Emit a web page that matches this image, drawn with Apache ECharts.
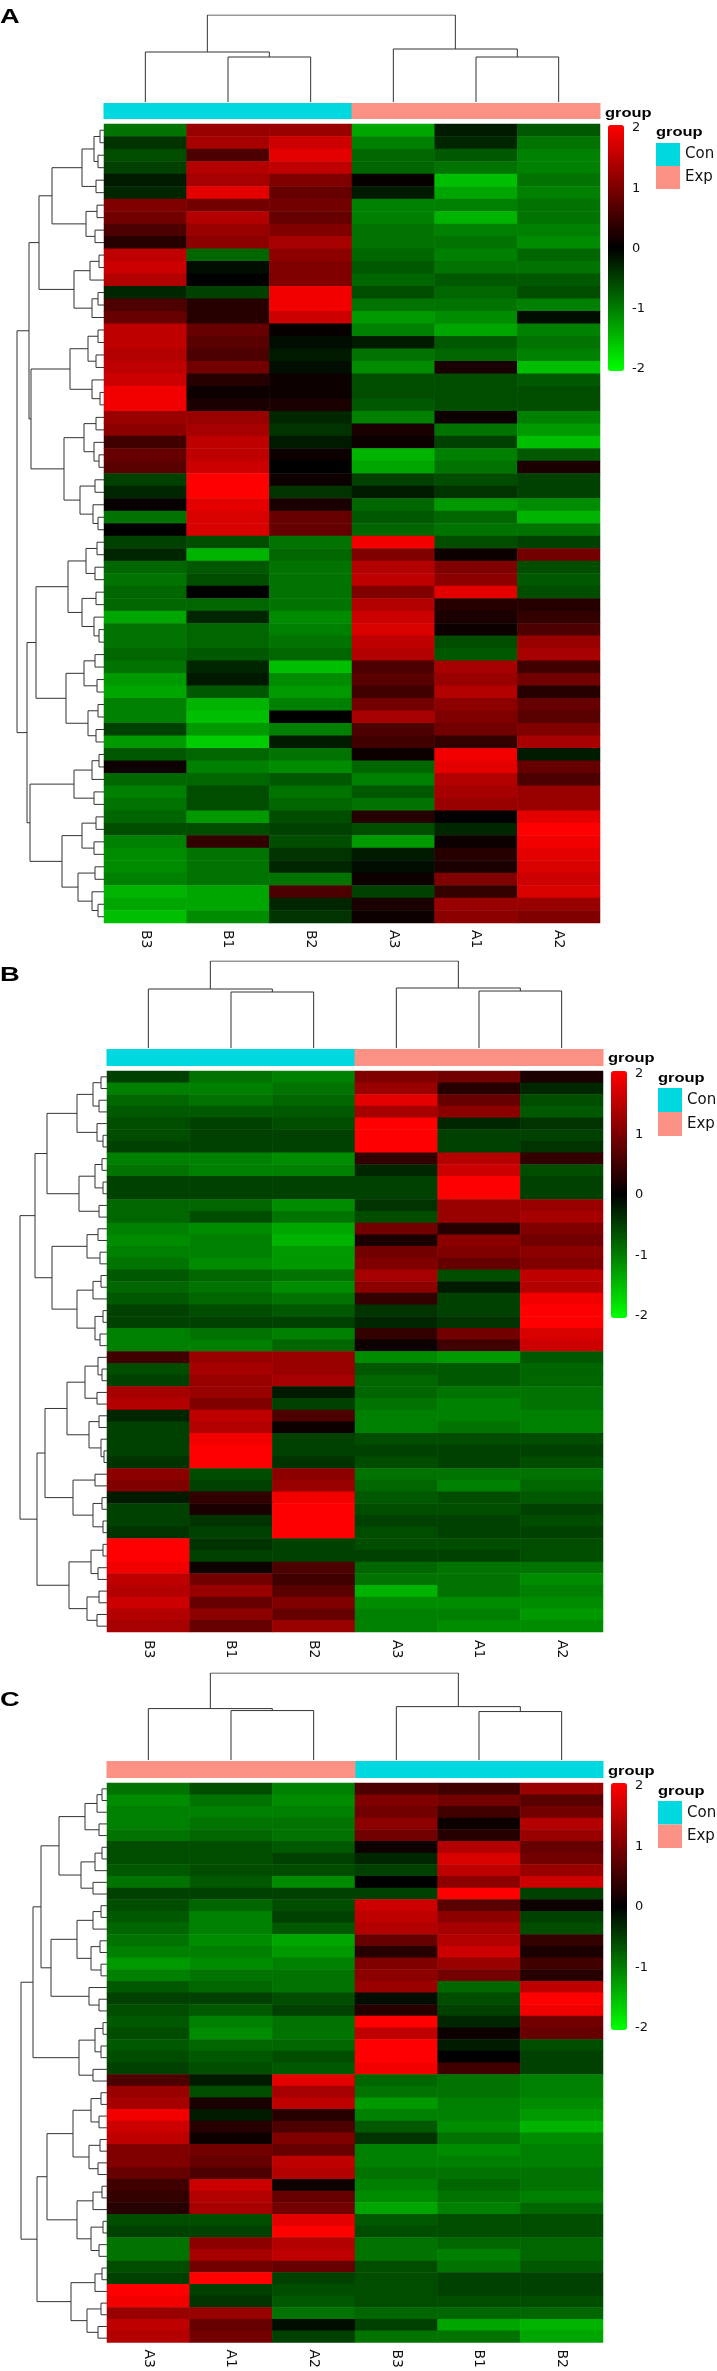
<!DOCTYPE html>
<html><head><meta charset="utf-8">
<script src="https://cdn.jsdelivr.net/npm/echarts@6/dist/echarts.min.js"></script>
<style>html,body{margin:0;padding:0;background:#fff}#c{width:717px;height:2371px}</style>
</head><body><div id="c"></div>
<script>
// ---------------- DATA ----------------
const colsA = ['B3','B1','B2','A3','A1','A2'];
const groupA = ['Con','Con','Con','Exp','Exp','Exp'];
const valuesA = [
[-0.9, 1.2, 1.2, -1.3, -0.2, -0.7],
[-0.4, 1.3, 1.6, -1.0, -0.3, -0.9],
[-0.6, 0.6, 1.8, -0.8, -0.7, -1.0],
[-0.5, 1.4, 1.5, -0.8, -0.9, -1.0],
[-0.2, 1.3, 1.0, 0.05, -1.5, -0.9],
[-0.3, 1.8, 0.8, -0.2, -1.3, -1.0],
[1.0, 0.9, 0.9, -1.0, -1.0, -0.9],
[0.9, 1.4, 0.8, -1.0, -1.4, -0.9],
[0.6, 1.2, 1.0, -0.9, -1.0, -1.0],
[0.3, 1.1, 1.3, -0.9, -0.9, -1.1],
[1.5, -0.8, 1.1, -0.8, -1.0, -0.8],
[1.6, -0.1, 1.0, -0.7, -0.9, -0.9],
[1.4, 0.0, 1.0, -0.8, -0.7, -0.7],
[-0.3, -0.5, 1.9, -0.6, -0.8, -0.6],
[0.6, 0.3, 1.9, -0.9, -0.9, -1.0],
[0.8, 0.3, 1.6, -1.2, -1.1, -0.1],
[1.5, 0.8, 0.05, -1.0, -1.3, -1.0],
[1.5, 0.7, -0.1, -0.2, -0.7, -0.9],
[1.4, 0.6, -0.2, -0.9, -0.8, -1.0],
[1.5, 0.9, -0.1, -1.1, 0.2, -1.5],
[1.6, 0.3, 0.1, -0.6, -0.6, -0.7],
[1.9, 0.1, 0.1, -0.6, -0.6, -0.6],
[1.9, 0.2, 0.2, -0.7, -0.6, -0.6],
[1.2, 1.2, -0.3, -1.0, 0.1, -1.0],
[1.1, 1.3, -0.4, 0.2, -0.9, -1.2],
[0.5, 1.5, -0.2, 0.1, -0.5, -1.5],
[0.8, 1.5, 0.1, -1.4, -1.0, -0.7],
[0.7, 1.6, 0.0, -1.3, -0.9, 0.2],
[-0.5, 2.0, 0.1, -0.5, -0.6, -0.5],
[-0.3, 2.0, -0.4, -0.2, -0.4, -0.5],
[0.05, 1.8, 0.2, -0.8, -1.2, -1.1],
[-0.9, 1.7, 0.8, -0.7, -0.8, -1.4],
[0.0, 1.7, 0.8, -0.8, -0.9, -0.9],
[-0.5, -0.6, -0.9, 1.9, -0.6, -0.5],
[-0.3, -1.4, -0.8, 1.0, 0.1, 0.9],
[-0.8, -0.7, -0.9, 1.4, 1.0, -0.6],
[-0.9, -0.6, -0.9, 1.5, 1.1, -0.7],
[-0.8, 0.0, -0.9, 1.0, 1.8, -0.6],
[-0.8, -0.8, -0.9, 1.4, 0.3, 0.3],
[-1.3, -0.3, -1.1, 1.6, 0.2, 0.4],
[-0.9, -0.8, -1.0, 1.7, 0.1, 0.6],
[-0.9, -0.8, -0.9, 1.5, -0.6, 1.2],
[-0.8, -0.7, -0.8, 1.4, -0.7, 1.3],
[-0.9, -0.3, -1.5, 0.6, 1.3, 0.5],
[-1.2, -0.2, -1.1, 0.7, 1.2, 0.9],
[-1.3, -0.7, -1.2, 0.5, 1.4, 0.3],
[-1.0, -1.4, -1.0, 0.9, 1.1, 0.8],
[-1.0, -1.5, 0.0, 1.3, 1.0, 0.7],
[-0.5, -1.2, -1.0, 0.6, 0.9, 1.0],
[-1.2, -1.6, -0.2, 0.5, 0.4, 1.3],
[-0.7, -0.8, -0.9, 0.1, 1.9, -0.2],
[0.1, -1.0, -1.1, -0.8, 1.8, 0.8],
[-0.8, -0.8, -0.7, -1.0, 1.4, 0.6],
[-1.0, -0.6, -0.9, -0.7, 1.3, 1.2],
[-0.9, -0.6, -0.8, -0.9, 1.2, 1.2],
[-0.8, -1.2, -0.6, 0.3, 0.0, 1.8],
[-0.6, -0.6, -0.5, -0.6, -0.3, 2.0],
[-1.0, 0.4, -0.6, -1.2, 0.1, 1.9],
[-1.1, -0.9, -0.4, -0.2, 0.3, 1.8],
[-1.1, -0.9, -0.3, -0.1, 0.2, 1.7],
[-1.0, -0.9, -0.9, 0.1, 1.0, 1.6],
[-1.4, -1.3, 0.6, -0.5, 0.4, 1.7],
[-1.3, -1.3, -0.3, 0.2, 1.2, 1.2],
[-1.5, -1.1, -0.4, 0.1, 1.1, 1.0]
];
// dendrograms: [height, left, right]; numbers are leaf indices
const colTreeA = [87, [50, 0, [45, 1, 2]], [53, 3, [45, 4, 5]]];
const rowTreeA =
[87,
 [75,
  [65,
   [52, [22,[10,[4,0,1],[6,2,3]],[8,4,5]], [18,[7,6,7],[9,8,9]]],
   [30, [14,[5,10,11],12], [12,[6,13,14],15]]
  ],
  [73,
   [34, [16,[6,16,17],[8,18,19]], [12,20,[4,21,22]]],
   [40, [20,[8,23,24],[10,25,[5,26,27]]], [24,[9,28,29],[11,30,[6,31,32]]]]
  ]
 ],
 [77,
  [68,
   [36, [18,[7,33,34],[9,35,36]], [22,[8,37,38],[10,39,[5,40,41]]]],
   [38, [20,[9,42,43],[7,44,45]], [16,[6,46,47],[8,48,49]]]
  ],
  [74,
   [30, [12,[5,50,51],52], [10,53,54]],
   [42, [22,[8,55,56],[10,57,58]], [26,[9,59,60],[12,61,[6,62,63]]]]
  ]
 ]
];

const colsB = ['B3','B1','B2','A3','A1','A2'];
const groupB = ['Con','Con','Con','Exp','Exp','Exp'];
const valuesB = [
[-0.5, -0.9, -1.0, 1.0, 0.9, 0.2],
[-1.0, -1.0, -0.9, 1.2, 0.3, -0.3],
[-0.8, -0.9, -0.8, 1.8, 0.8, -0.6],
[-0.7, -0.7, -0.7, 1.3, 1.1, -0.7],
[-0.6, -0.5, -0.6, 2.0, -0.3, -0.4],
[-0.6, -0.5, -0.5, 2.0, -0.5, -0.5],
[-0.5, -0.5, -0.5, 2.0, -0.5, -0.4],
[-1.0, -1.0, -1.1, 0.4, 1.4, 0.4],
[-0.9, -1.0, -1.0, -0.3, 1.6, -0.6],
[-0.5, -0.5, -0.5, -0.5, 2.0, -0.5],
[-0.5, -0.5, -0.5, -0.5, 2.0, -0.5],
[-0.8, -0.8, -1.1, -0.4, 1.2, 1.2],
[-0.8, -0.6, -0.9, -0.6, 1.2, 1.3],
[-1.0, -1.1, -1.3, 0.9, 0.3, 1.0],
[-1.1, -1.0, -1.4, 0.2, 1.1, 0.9],
[-1.0, -1.0, -1.2, 0.9, 1.0, 1.1],
[-0.9, -1.1, -1.2, 1.0, 0.8, 1.0],
[-0.7, -0.8, -0.9, 1.3, -0.6, 1.5],
[-0.8, -0.9, -1.1, 1.1, -0.2, 1.4],
[-0.7, -0.8, -0.9, 0.4, -0.5, 1.9],
[-0.5, -0.6, -0.7, -0.4, -0.5, 2.0],
[-0.5, -0.5, -0.5, -0.3, -0.4, 2.0],
[-1.0, -0.9, -1.0, 0.4, 0.9, 1.7],
[-1.0, -1.0, -0.8, 0.1, 0.5, 1.6],
[0.5, 1.2, 1.2, -1.1, -1.2, -0.7],
[-0.6, 1.3, 1.2, -0.7, -0.7, -0.8],
[-0.5, 1.2, 1.3, -0.8, -0.7, -0.8],
[1.3, 1.2, -0.2, -0.8, -0.9, -0.9],
[1.4, 1.0, -0.5, -0.9, -1.0, -0.9],
[-0.3, 1.5, 0.6, -1.0, -1.0, -1.0],
[-0.5, 1.4, 0.1, -1.0, -0.9, -1.0],
[-0.5, 1.9, -0.5, -0.6, -0.6, -0.6],
[-0.5, 2.0, -0.5, -0.5, -0.5, -0.5],
[-0.4, 2.0, -0.4, -0.6, -0.5, -0.6],
[1.1, -0.6, 1.1, -0.9, -0.9, -0.9],
[1.0, -0.5, 1.2, -0.8, -1.0, -0.8],
[-0.2, 0.4, 1.9, -0.7, -0.6, -0.7],
[-0.5, 0.2, 2.0, -0.6, -0.6, -0.5],
[-0.5, -0.4, 2.0, -0.5, -0.5, -0.6],
[-0.4, -0.5, 2.0, -0.6, -0.5, -0.5],
[2.0, -0.4, -0.5, -0.6, -0.6, -0.6],
[2.0, -0.5, -0.5, -0.5, -0.5, -0.6],
[1.9, 0.1, 0.6, -0.8, -0.9, -0.9],
[1.5, 0.9, 0.5, -0.9, -0.9, -1.1],
[1.4, 1.2, 0.7, -1.4, -0.9, -1.0],
[1.6, 0.8, 1.0, -1.1, -1.1, -1.1],
[1.4, 1.1, 0.8, -1.0, -1.0, -1.2],
[1.3, 0.8, 1.2, -1.0, -1.1, -1.1]
];
const colTreeB = [87, [59, 0, [56, 1, 2]], [60, 3, [57, 4, 5]]];
const rowTreeB =
[87,
 [72,
  [60,
   [30, [14,[6,0,1],[8,2,3]], [10,4,[4,5,6]]],
   [28, [12,[5,7,8],[4,9,10]], [8,11,12]]
  ],
  [55,
   [20, [9,13,14], [7,15,16]],
   [30, [14,[6,17,18],19], [12,[4,20,21],[7,22,23]]]
  ]
 ],
 [70,
  [62,
   [40, [22,[9,24,[5,25,26]],[10,27,28]], [18,[8,29,30],[6,31,[3,32,33]]]],
   [34, [12,34,35], [14,[5,36,37],[4,38,39]]]
  ],
  [38, [16,[4,40,41],[9,42,43]], [20,[8,44,45],[10,46,47]]]
 ]
];

const colsC = ['A3','A1','A2','B3','B1','B2'];
const groupC = ['Exp','Exp','Exp','Con','Con','Con'];
const valuesC = [
[-0.9, -0.6, -1.0, 0.6, 0.5, 1.2],
[-1.1, -0.9, -1.1, 1.0, 0.9, 0.7],
[-1.0, -1.0, -1.0, 0.9, 0.5, 0.9],
[-1.0, -0.9, -0.9, 1.1, 0.1, 1.4],
[-0.9, -0.8, -0.9, 0.9, 0.3, 1.2],
[-0.6, -0.6, -0.7, 0.1, 1.4, 0.8],
[-0.6, -0.6, -0.5, -0.3, 1.7, 0.9],
[-0.7, -0.6, -0.6, -0.5, 1.5, 1.2],
[-0.9, -0.7, -1.1, 0.0, 1.1, 1.6],
[-0.5, -0.5, -0.5, -0.5, 2.0, -0.5],
[-0.6, -0.8, -0.6, 1.6, 0.7, 0.1],
[-0.7, -1.0, -0.5, 1.5, 1.1, -0.5],
[-0.8, -1.0, -0.7, 1.4, 1.3, -0.6],
[-0.9, -1.1, -1.3, 0.8, 1.4, 0.4],
[-1.0, -1.0, -1.2, 0.3, 1.6, 0.2],
[-1.2, -1.1, -1.0, 1.0, 1.2, 0.5],
[-1.0, -0.9, -0.9, 1.1, 0.9, 0.3],
[-0.7, -0.8, -0.9, 1.2, -0.8, 1.5],
[-0.5, -0.5, -0.6, -0.1, -0.6, 2.0],
[-0.6, -0.7, -0.5, 0.3, -0.5, 1.9],
[-0.7, -1.0, -0.9, 2.0, -0.3, 0.9],
[-0.6, -1.1, -0.9, 1.5, 0.1, 0.8],
[-0.7, -0.8, -0.8, 2.0, -0.2, -0.6],
[-0.6, -0.7, -0.6, 2.0, 0.0, -0.5],
[-0.5, -0.6, -0.7, 1.9, 0.5, -0.5],
[0.6, -0.2, 1.8, -0.8, -0.9, -1.0],
[1.2, -0.6, 1.3, -0.9, -0.9, -1.0],
[1.3, 0.2, 1.5, -1.2, -1.0, -1.1],
[1.9, -0.2, 0.3, -1.0, -1.0, -1.2],
[1.6, 0.3, 0.6, -0.7, -1.1, -1.4],
[1.5, 0.1, 1.0, -0.4, -0.9, -1.1],
[1.0, 0.9, 0.8, -1.0, -1.1, -1.0],
[1.0, 0.8, 1.5, -1.0, -1.0, -1.0],
[0.8, 0.6, 1.4, -0.9, -0.9, -0.9],
[0.5, 1.6, 0.1, -1.0, -0.8, -0.9],
[0.4, 1.4, 0.8, -1.1, -0.9, -1.0],
[0.3, 1.3, 0.9, -1.3, -1.0, -0.8],
[-0.6, -0.6, 1.8, -0.7, -0.6, -0.6],
[-0.5, -0.5, 2.0, -0.6, -0.6, -0.6],
[-0.9, 1.1, 1.4, -0.9, -0.8, -0.8],
[-0.9, 1.3, 1.5, -0.9, -1.0, -0.8],
[-0.6, 0.9, 0.8, -0.6, -0.9, -0.7],
[-0.5, 2.0, -0.5, -0.6, -0.5, -0.5],
[2.0, -0.5, -0.6, -0.6, -0.5, -0.5],
[1.9, -0.4, -0.7, -0.6, -0.6, -0.6],
[1.2, 1.2, -0.9, -0.8, -0.8, -0.8],
[1.5, 0.8, -0.1, -0.5, -1.3, -1.4],
[1.4, 0.9, -0.5, -0.9, -0.9, -1.3]
];
const colTreeC = [88, [52, 0, [50, 1, 2]], [54, 3, [49, 4, 5]]];
const rowTreeC =
[86,
 [74,
  [66,
   [48, [22,[10,[5,0,1],2],[8,3,4]], [26,[12,[5,5,6],7],[14,8,9]]],
   [56, [30,[14,[6,10,11],12],[16,[7,13,14],[6,15,16]]], [18,17,[8,18,19]]]
  ],
  [28, [12,[4,20,21],[6,22,23]], [14,24,25]]
 ],
 [70,
  [60,
   [34, [16,[6,26,27],[8,28,29]], [18,[7,30,31],[9,32,33]]],
   [30, [14,[5,34,35],36], [16,[4,37,38],[8,39,40]]]
  ],
  [36, [12,[5,41,42],43], [20,[6,44,45],[9,46,47]]]
 ]
];

const panelLetters = ['A','B','C'];
const groupTitle = 'group';
const groupNames = ['Con','Exp'];

// ---------------- LAYOUT / STYLE ----------------
const FONT = 'DejaVu Sans';
const SANS = 'Liberation Sans';
const COLORS = {Con:'#00D8E0', Exp:'#FC9185'};
const DEND = '#333333';
const panels = [
 {letter:panelLetters[0], cols:colsA, groups:groupA, values:valuesA, colTree:colTreeA, rowTree:rowTreeA,
  letterY:17.5, heatLeft:104, heatRight:600, heatTop:124, heatBottom:923, dendTop:15, barTop:103, barBottom:119,
  rowRootX:17, cbLeft:608, cbTop:125, cbH:246, cbTitleX:605, cbTitleY:113, lgX:656, lgTitleY:132, lgTop:143, lgItem:23, labelMargin:7},
 {letter:panelLetters[1], cols:colsB, groups:groupB, values:valuesB, colTree:colTreeB, rowTree:rowTreeB,
  letterY:975, heatLeft:107, heatRight:603, heatTop:1071, heatBottom:1632, dendTop:961, barTop:1049, barBottom:1066,
  rowRootX:20, cbLeft:611, cbTop:1071, cbH:247, cbTitleX:608, cbTitleY:1058, lgX:658, lgTitleY:1078, lgTop:1088, lgItem:24, labelMargin:8},
 {letter:panelLetters[2], cols:colsC, groups:groupC, values:valuesC, colTree:colTreeC, rowTree:rowTreeC,
  letterY:1700, heatLeft:107, heatRight:603, heatTop:1783, heatBottom:2344, dendTop:1673, barTop:1761, barBottom:1778,
  rowRootX:21, cbLeft:611, cbTop:1783, cbH:247, cbTitleX:608, cbTitleY:1771, lgX:658, lgTitleY:1791, lgTop:1801, lgItem:23.5, labelMargin:7}
];

function walk(node, segs) {
  if (typeof node === 'number') return {pos: node, h: 0};
  const a = walk(node[1], segs), b = walk(node[2], segs);
  segs.push([[a.pos, a.h], [a.pos, node[0]], [b.pos, node[0]], [b.pos, b.h]]);
  return {pos: (a.pos + b.pos) / 2, h: node[0]};
}

const option = {animation:false, backgroundColor:'#ffffff', grid:[], xAxis:[], yAxis:[], series:[], visualMap:[], legend:[], graphic:[]};
function addGrid(g){ option.grid.push(g); return option.grid.length - 1; }
function addX(a){ option.xAxis.push(a); return option.xAxis.length - 1; }
function addY(a){ option.yAxis.push(a); return option.yAxis.length - 1; }

function annRender(params, api) {
  const c = api.coord([api.value(0), 0]);
  const top = api.coord([api.value(0), 1]);
  const w = api.size([1, 0])[0];
  return {type:'rect', shape:{x:c[0] - w / 2 - 0.5, y:top[1], width:w + 1, height:c[1] - top[1]},
    style:{fill:api.visual('color')}};
}

panels.forEach(P => {
  const nR = P.values.length, nC = P.cols.length;
  const heatW = P.heatRight - P.heatLeft, heatH = P.heatBottom - P.heatTop;

  // heatmap
  const gH = addGrid({left:P.heatLeft, top:P.heatTop, width:heatW, height:heatH});
  const xH = addX({gridIndex:gH, type:'category', data:P.cols, position:'bottom',
    axisLine:{show:false}, axisTick:{show:false}, splitLine:{show:false},
    axisLabel:{rotate:-90, margin:P.labelMargin, fontSize:14, fontFamily:FONT, color:'#111'}});
  const yH = addY({gridIndex:gH, type:'category', data:P.values.map((_, i) => String(i)), inverse:true, show:false});
  const heatData = [];
  P.values.forEach((row, r) => row.forEach((v, c) => heatData.push([c, r, v])));
  option.series.push({type:'heatmap', xAxisIndex:xH, yAxisIndex:yH, data:heatData, silent:true,
    itemStyle:{borderWidth:0}, emphasis:{disabled:true}, progressive:0});
  const sH = option.series.length - 1;
  option.visualMap.push({type:'continuous', seriesIndex:sH, min:-2, max:2, calculable:false, hoverLink:false,
    inRange:{color:['#00FF00', '#000000', '#FF0000']}, orient:'vertical',
    left:P.cbLeft, top:P.cbTop, itemWidth:16, itemHeight:P.cbH, padding:0});

  // colour bar tick labels
  const gL = addGrid({left:P.cbLeft, top:P.cbTop + 3, width:16, height:P.cbH - 5});
  const xL = addX({gridIndex:gL, type:'value', show:false, min:0, max:1});
  const yL = addY({gridIndex:gL, type:'value', min:-2, max:2, interval:1, position:'right',
    axisLine:{show:false}, axisTick:{show:false}, splitLine:{show:false},
    axisLabel:{margin:8, fontSize:13, fontFamily:FONT, color:'#111'}});
  option.series.push({type:'scatter', xAxisIndex:xL, yAxisIndex:yL, data:[], silent:true});

  // column dendrogram
  const gD = addGrid({left:P.heatLeft, top:P.dendTop, width:heatW, height:P.barTop - 1 - P.dendTop});
  const xD = addX({gridIndex:gD, type:'value', min:-0.5, max:nC - 0.5, show:false});
  const yD = addY({gridIndex:gD, type:'value', min:0, max:P.colTree[0], show:false});
  const cs = []; walk(P.colTree, cs);
  option.series.push({type:'lines', coordinateSystem:'cartesian2d', xAxisIndex:xD, yAxisIndex:yD, polyline:true, silent:true,
    lineStyle:{color:DEND, width:1, opacity:1}, data:cs.map(c => ({coords:c}))});

  // row dendrogram
  const gR = addGrid({left:P.rowRootX, top:P.heatTop, width:P.heatLeft - P.rowRootX, height:heatH});
  const xR = addX({gridIndex:gR, type:'value', min:0, max:P.rowTree[0], inverse:true, show:false});
  const yR = addY({gridIndex:gR, type:'value', min:-0.5, max:nR - 0.5, inverse:true, show:false});
  const rs = []; walk(P.rowTree, rs);
  option.series.push({type:'lines', coordinateSystem:'cartesian2d', xAxisIndex:xR, yAxisIndex:yR, polyline:true, silent:true,
    lineStyle:{color:DEND, width:1, opacity:1}, data:rs.map(c => ({coords:c.map(p => [p[1], p[0]])}))});

  // annotation bar
  const gB = addGrid({left:P.heatLeft, top:P.barTop, width:heatW, height:P.barBottom - P.barTop});
  const xB = addX({gridIndex:gB, type:'category', data:P.cols, show:false});
  const yB = addY({gridIndex:gB, type:'value', min:0, max:1, show:false});
  groupNames.forEach(g => {
    const d = [];
    P.groups.forEach((v, i) => { if (v === g) d.push([i, 1]); });
    option.series.push({type:'custom', name:g, xAxisIndex:xB, yAxisIndex:yB, silent:true,
      itemStyle:{color:COLORS[g]}, renderItem:annRender, encode:{x:0, y:1}, data:d});
  });

  // legend
  option.legend.push({data:groupNames.map(n => ({name:n, itemStyle:{color:COLORS[n], borderWidth:0}})),
    orient:'vertical', left:P.lgX, top:P.lgTop, itemWidth:24, itemHeight:P.lgItem,
    itemGap:0, icon:'rect', padding:0, selectedMode:false,
    textStyle:{fontSize:15, fontFamily:FONT, color:'#111'}});

  // texts
  option.graphic.push({type:'text', x:0, y:P.letterY, scaleX:1.3, silent:true,
    style:{text:P.letter, fontSize:21, fontWeight:'bold', fontFamily:SANS, fill:'#000',
      textAlign:'left', textVerticalAlign:'middle', align:'left', verticalAlign:'middle'}});
  option.graphic.push({type:'text', x:P.cbTitleX, y:P.cbTitleY, scaleX:1.22, silent:true,
    style:{text:groupTitle, fontSize:13.5, fontWeight:'bold', fontFamily:SANS, fill:'#000',
      textAlign:'left', textVerticalAlign:'middle', align:'left', verticalAlign:'middle'}});
  option.graphic.push({type:'text', x:P.lgX, y:P.lgTitleY, scaleX:1.22, silent:true,
    style:{text:groupTitle, fontSize:13.5, fontWeight:'bold', fontFamily:SANS, fill:'#000',
      textAlign:'left', textVerticalAlign:'middle', align:'left', verticalAlign:'middle'}});
});

const chart = echarts.init(document.getElementById('c'), null, {renderer:'canvas', width:717, height:2371});
chart.setOption(option);
</script>
</body></html>
